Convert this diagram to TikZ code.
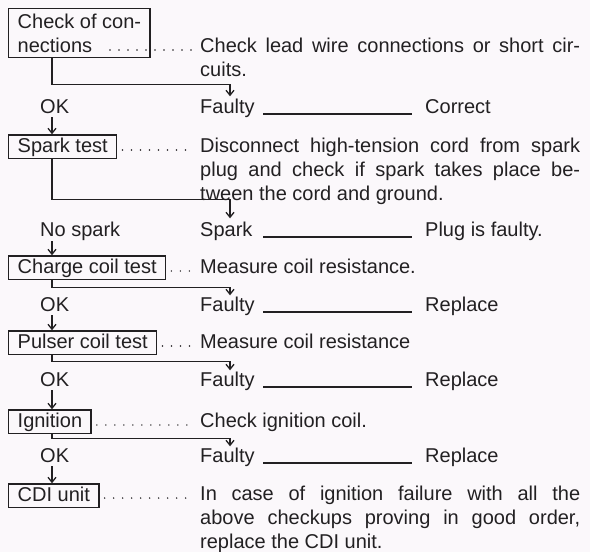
\documentclass[tikz,border=0pt]{standalone}
\usepackage{fontspec}
\setmainfont{Liberation Sans}
\usetikzlibrary{arrows.meta,calc}
\definecolor{bg}{RGB}{251,248,251}
\definecolor{ink}{RGB}{34,32,34}
\begin{document}
\begin{tikzpicture}[x=1pt,y=-1pt,
  every node/.style={font=\fontsize{20}{24}\selectfont, text=ink, inner sep=0pt},
  stepbox/.style={draw=ink, line width=1.4pt, inner xsep=9pt, inner ysep=2.5pt,
    text height=14.5pt, text depth=4pt, anchor=base west},
  firstbox/.style={draw=ink, line width=1.4pt, inner xsep=9pt, inner ysep=5pt,
    align=left, anchor=north west},
  desc/.style={text width=380pt, align=justify, anchor=base west,
    execute at begin node={\exhyphenpenalty=10000\hyphenpenalty=10000}},
  lbl/.style={anchor=base west},
  conn/.style={draw=ink, line width=1.3pt},
  arr/.style={conn, -{Straight Barb[length=5pt,width=8pt]}},
  leader/.style={draw=ink, line width=1.7pt, line cap=round, dash pattern=on 0pt off 9pt},
  rule/.style={draw=ink, line width=1.2pt}]
\fill[bg] (0,0) rectangle (590,552);
\useasboundingbox (0,0) rectangle (590,552);
\coordinate (colL) at (52,0);
\coordinate (colR) at (230,0);

% step boxes and descriptions
\node[firstbox] (b1) at (8,8) {Check of con-\\nections};
\node[desc] (d1) at (200,52) {Check lead wire connections or short cir-\linebreak cuits.};
\node[stepbox] (b2) at (8,152) {Spark test};
\node[desc] (d2) at (200,152) {Disconnect high-tension cord from spark\linebreak plug and check if spark takes place be-\linebreak tween the cord and ground.};
\node[stepbox] (b3) at (8,273) {Charge coil test};
\node[desc] (d3) at (200,273) {Measure coil resistance.};
\node[stepbox] (b4) at (8,348) {Pulser coil test};
\node[desc] (d4) at (200,348) {Measure coil resistance};
\node[stepbox] (b5) at (8,427) {Ignition};
\node[desc] (d5) at (200,427) {Check ignition coil.};
\node[stepbox] (b6) at (8,501) {CDI unit};
\node[desc] (d6) at (200,500) {In case of ignition failure with all the\linebreak above checkups proving in good order,\linebreak replace the CDI unit.};

% outcome labels
\node[lbl] (o1) at (40,113) {OK};
\node[lbl] (f1) at (200,113) {Faulty};
\node[lbl] (r1) at (425,113) {Correct};
\node[lbl] (o2) at (40,236) {No spark};
\node[lbl] (f2) at (200,236) {Spark};
\node[lbl] (r2) at (425,236) {Plug is faulty.};
\node[lbl] (o3) at (40,311) {OK};
\node[lbl] (f3) at (200,311) {Faulty};
\node[lbl] (r3) at (425,311) {Replace};
\node[lbl] (o4) at (40,386) {OK};
\node[lbl] (f4) at (200,386) {Faulty};
\node[lbl] (r4) at (425,386) {Replace};
\node[lbl] (o5) at (40,462) {OK};
\node[lbl] (f5) at (200,462) {Faulty};
\node[lbl] (r5) at (425,462) {Replace};

% dotted leaders
\draw[leader] ($(d1.base west)+(-90,-2)$) -- ($(d1.base west)+(-7,-2)$);
\foreach \i in {2,...,6}
  \draw[leader] ($(b\i.east |- d\i.base)+(5,-2)$) -- ($(d\i.base west)+(-7,-2)$);

% rules between fault and remedy
\foreach \i in {1,...,5}
  \draw[rule] ($(f\i.base west)+(63,1)$) -- ($(r\i.base west)+(-13,1)$);

% fault branches
\foreach \i/\h/\t in {1/14/2, 2/22/3, 3/9/1, 4/10/1, 5/9/1} {
  \draw[conn] (b\i.south -| colL) |- ($(f\i.north -| colR)+(0,-\h)$);
  \draw[arr] ($(f\i.north -| colR)+(0,-\h)$) -- ($(f\i.north -| colR)+(0,-\t)$);
}

% main flow arrows
\draw[arr] ($(o1.base -| colL)+(0,4)$) -- (b2.north -| colL);
\draw[arr] ($(o2.base -| colL)+(0,5)$) -- (b3.north -| colL);
\draw[arr] ($(o3.base -| colL)+(0,4)$) -- (b4.north -| colL);
\draw[arr] ($(o4.base -| colL)+(0,4)$) -- (b5.north -| colL);
\draw[arr] ($(o5.base -| colL)+(0,4)$) -- (b6.north -| colL);
\end{tikzpicture}
\end{document}
